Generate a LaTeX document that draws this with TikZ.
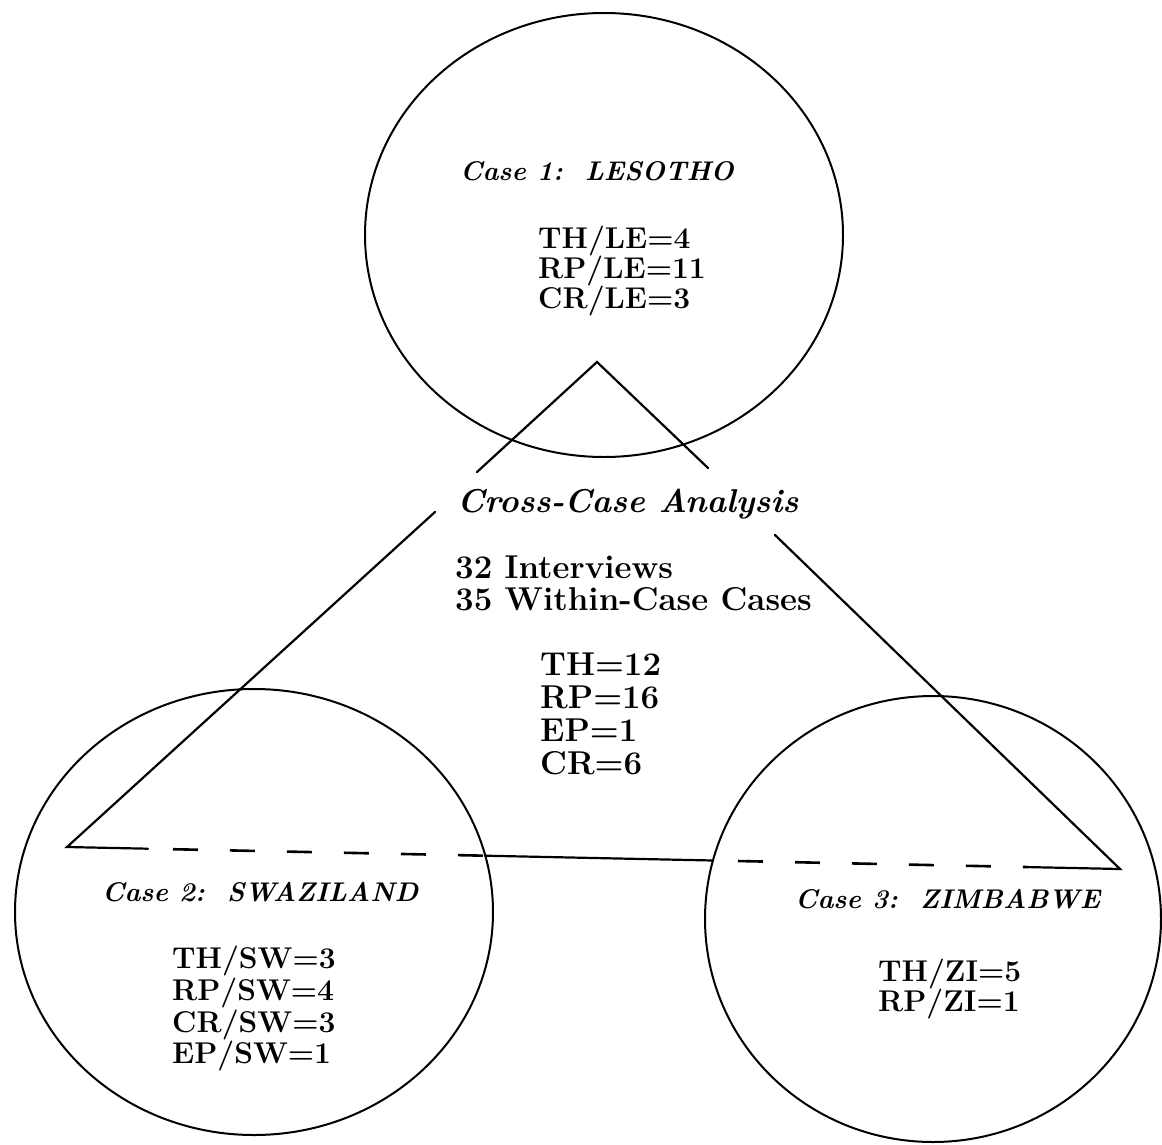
\documentclass[tikz,border=0pt]{standalone}
\usepackage{fontspec}
\usetikzlibrary{shapes.geometric}
\tikzset{
  casering/.style={ellipse, draw=black, line width=2pt, inner sep=0pt},
  caselabel/.style={anchor=base west, inner sep=0pt, font=\fontsize{27}{27}\selectfont\bfseries\itshape},
  titlelabel/.style={anchor=base west, inner sep=0pt, font=\fontsize{33}{33}\selectfont\bfseries\itshape},
  bigtext/.style={anchor=base west, inner sep=0pt, font=\fontsize{33}{33}\selectfont\bfseries},
  datatext/.style={anchor=base west, inner sep=0pt, font=\fontsize{30}{30}\selectfont\bfseries},
  link/.style={line width=2.2pt, line cap=round, line join=miter},
  dashlink/.style={line width=2.6pt, dash pattern=on 25pt off 32pt, dash phase=32pt}
}
\begin{document}
\begin{tikzpicture}[x=1pt,y=-1pt]
\useasboundingbox[fill=white] (0,0) rectangle (1162,1145);

% circles
\node[casering, minimum width=478pt, minimum height=444pt] (les) at (604,235) {};
\node[casering, minimum width=478pt, minimum height=446pt] (swa) at (254,912) {};
\node[casering, minimum width=456pt, minimum height=446pt] (zim) at (933,919) {};

% small triangle (apex inside Lesotho circle)
\coordinate (apex) at (597,362);
\coordinate (sl) at (477,472);
\coordinate (sr) at (708,468);
\draw[link] (sl) -- (apex) -- (sr);

% big triangle
\coordinate (tl) at (435,512);
\coordinate (tr) at (775,535);
\coordinate (a1) at (67,847);
\coordinate (a2) at (148,848.7);
\coordinate (b1) at (485,855.7);
\coordinate (b2) at (713,860.5);
\coordinate (c1) at (1029,867.1);
\coordinate (c2) at (1120,869);
\draw[link] (tl) -- (a1) -- (a2);
\draw[dashlink] (a2) -- (b1);
\draw[link] (b1) -- (b2);
\draw[dashlink] (b2) -- (c1);
\draw[link] (c1) -- (c2) -- (tr);

% Lesotho
\node[caselabel] (lesT) at (460,180) {Case 1:\ \ LESOTHO};
\node[datatext] (les1) at (538,248) {TH/LE=4};
\node[datatext] (les2) at (538,278) {RP/LE=11};
\node[datatext] (les3) at (538,308) {CR/LE=3};

% Cross-case
\node[titlelabel] (ccT) at (457,512) {Cross-Case Analysis};
\node[bigtext] (cc1) at (455,578) {32 Interviews};
\node[bigtext] (cc2) at (455,610) {35 Within-Case Cases};
\node[bigtext] (cc3) at (540,675) {TH=12};
\node[bigtext] (cc4) at (540,708) {RP=16};
\node[bigtext] (cc5) at (540,741) {EP=1};
\node[bigtext] (cc6) at (540,774) {CR=6};

% Swaziland
\node[caselabel] (swaT) at (102,901) {Case 2:\ \ SWAZILAND};
\node[datatext] (swa1) at (172,968) {TH/SW=3};
\node[datatext] (swa2) at (172,1000) {RP/SW=4};
\node[datatext] (swa3) at (172,1032) {CR/SW=3};
\node[datatext] (swa4) at (172,1063) {EP/SW=1};

% Zimbabwe
\node[caselabel] (zimT) at (795,908) {Case 3:\ \ ZIMBABWE};
\node[datatext] (zim1) at (878,981) {TH/ZI=5};
\node[datatext] (zim2) at (878,1011) {RP/ZI=1};
\end{tikzpicture}
\end{document}
